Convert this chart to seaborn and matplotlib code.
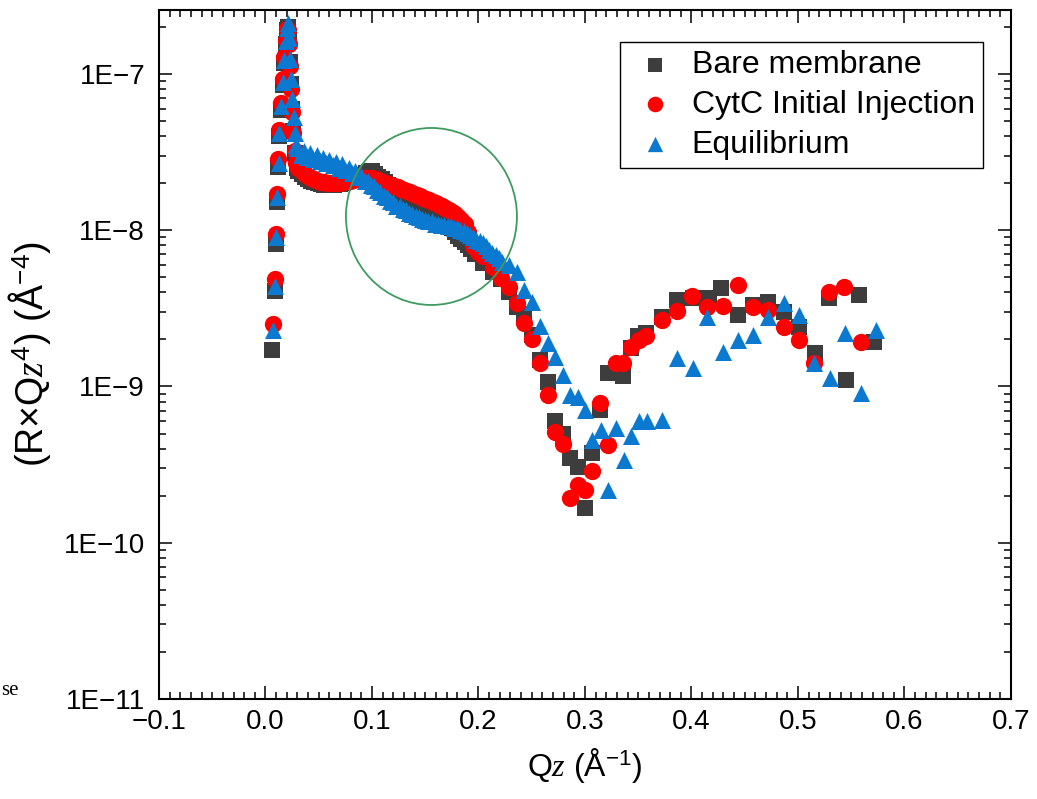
import matplotlib
matplotlib.use("Agg")
import numpy as np
import pandas as pd
import seaborn as sns
import matplotlib.pyplot as plt
from matplotlib.patches import Ellipse
from matplotlib.ticker import FixedLocator, FuncFormatter, MultipleLocator, LogLocator, NullFormatter

# ---------------- data ----------------
bare_q = [0.0062, 0.0086, 0.0097, 0.0111, 0.0122, 0.0131, 0.0145, 0.0162, 0.0177, 0.0191, 0.0201, 0.0211,
          0.0222, 0.0232, 0.0242, 0.0252, 0.0263, 0.0277, 0.0292,
          0.031, 0.034, 0.037, 0.040, 0.043, 0.046, 0.049, 0.052, 0.055, 0.058, 0.061, 0.064, 0.067, 0.070,
          0.073, 0.076, 0.079, 0.082, 0.085, 0.088, 0.091, 0.094, 0.097, 0.100, 0.103, 0.106, 0.109, 0.112,
          0.115, 0.118, 0.121, 0.124, 0.127, 0.130, 0.133, 0.136, 0.139, 0.142, 0.145, 0.148, 0.151, 0.154,
          0.157, 0.160, 0.163, 0.166, 0.169, 0.172, 0.175, 0.178, 0.181, 0.184, 0.187, 0.190, 0.193,
          0.197, 0.2042, 0.2136, 0.2208, 0.2286, 0.2365, 0.243, 0.2506, 0.258, 0.265, 0.2717, 0.279, 0.286,
          0.293, 0.300, 0.307, 0.3145, 0.322, 0.329, 0.3355, 0.343, 0.350, 0.3575, 0.372, 0.386, 0.401,
          0.416, 0.428, 0.444, 0.458, 0.472, 0.4865, 0.5007, 0.516, 0.529, 0.545, 0.557, 0.571]
bare_r = [1.7e-9, 4.1e-9, 8.2e-9, 1.52e-8, 2.55e-8, 4.0e-8, 5.9e-8, 8.5e-8, 1.18e-7, 1.55e-7, 1.9e-7, 2.0e-7,
          1.75e-7, 1.2e-7, 8.6e-8, 6.0e-8, 4.3e-8, 3.1e-8, 2.5e-8,
          2.4e-8, 2.28e-8, 2.2e-8, 2.13e-8, 2.08e-8, 2.03e-8, 2.0e-8, 1.97e-8, 1.95e-8, 1.94e-8, 1.94e-8,
          1.95e-8, 1.97e-8, 1.99e-8, 2.02e-8, 2.06e-8, 2.1e-8, 2.14e-8, 2.18e-8, 2.22e-8, 2.27e-8, 2.32e-8,
          2.36e-8, 2.38e-8, 2.3e-8, 2.2e-8, 2.12e-8, 2.04e-8, 1.96e-8, 1.88e-8, 1.81e-8, 1.74e-8, 1.67e-8,
          1.61e-8, 1.56e-8, 1.51e-8, 1.47e-8, 1.43e-8, 1.40e-8, 1.37e-8, 1.35e-8, 1.33e-8, 1.31e-8, 1.28e-8,
          1.25e-8, 1.21e-8, 1.16e-8, 1.10e-8, 1.04e-8, 9.8e-9, 9.2e-9, 8.8e-9, 8.4e-9, 8.0e-9, 7.6e-9,
          7.1e-9, 6.2e-9, 5.4e-9, 4.9e-9, 4.05e-9, 3.25e-9, 2.9e-9, 2.14e-9, 1.48e-9, 1.07e-9, 6.0e-10,
          5.0e-10, 3.47e-10, 3.07e-10, 1.66e-10, 3.74e-10, 7.1e-10, 1.22e-9, 1.3e-9, 1.16e-9, 1.76e-9,
          2.09e-9, 2.2e-9, 2.8e-9, 3.58e-9, 3.7e-9, 3.67e-9, 4.26e-9, 2.87e-9, 3.3e-9, 3.49e-9, 3.02e-9,
          2.41e-9, 1.63e-9, 3.67e-9, 1.10e-9, 3.86e-9, 1.94e-9]

cytc_q = [0.0066, 0.0086, 0.0097, 0.0111, 0.0122, 0.0131, 0.0145, 0.0162, 0.0177, 0.0191, 0.0201, 0.0211,
          0.0221, 0.0231, 0.0241, 0.0251, 0.0262, 0.0276, 0.0291,
          0.031, 0.034, 0.037, 0.040, 0.043, 0.046, 0.049, 0.052, 0.055, 0.058, 0.061, 0.064, 0.067, 0.070,
          0.073, 0.076, 0.079, 0.082, 0.085, 0.088, 0.091, 0.094, 0.097, 0.100, 0.103, 0.106, 0.109, 0.112,
          0.115, 0.118, 0.121, 0.124, 0.127, 0.130, 0.133, 0.136, 0.139, 0.142, 0.145, 0.148, 0.151, 0.154,
          0.157, 0.160, 0.163, 0.166, 0.169, 0.172, 0.175, 0.178, 0.181, 0.184, 0.187, 0.190,
          0.1948, 0.1995, 0.2042, 0.2136, 0.2214, 0.2286, 0.236, 0.243, 0.2506, 0.258, 0.265, 0.2717, 0.279,
          0.286, 0.293, 0.300, 0.307, 0.3145, 0.322, 0.329, 0.3355, 0.343, 0.351, 0.3575, 0.3723, 0.3868,
          0.4006, 0.415, 0.430, 0.444, 0.458, 0.472, 0.4865, 0.5007, 0.515, 0.529, 0.543, 0.559]
cytc_r = [2.5e-9, 4.9e-9, 9.5e-9, 1.7e-8, 2.85e-8, 4.4e-8, 6.5e-8, 9.3e-8, 1.28e-7, 1.65e-7, 1.95e-7, 1.9e-7,
          1.55e-7, 1.12e-7, 8.0e-8, 5.7e-8, 4.2e-8, 3.2e-8, 2.7e-8,
          2.5e-8, 2.38e-8, 2.3e-8, 2.23e-8, 2.17e-8, 2.12e-8, 2.08e-8, 2.05e-8, 2.03e-8, 2.01e-8, 2.0e-8,
          2.0e-8, 2.01e-8, 2.02e-8, 2.04e-8, 2.06e-8, 2.08e-8, 2.10e-8, 2.12e-8, 2.14e-8, 2.16e-8, 2.17e-8,
          2.17e-8, 2.16e-8, 2.13e-8, 2.09e-8, 2.05e-8, 2.01e-8, 1.98e-8, 1.95e-8, 1.92e-8, 1.88e-8, 1.85e-8,
          1.81e-8, 1.78e-8, 1.75e-8, 1.71e-8, 1.68e-8, 1.65e-8, 1.62e-8, 1.59e-8, 1.56e-8, 1.52e-8, 1.49e-8,
          1.45e-8, 1.42e-8, 1.38e-8, 1.34e-8, 1.31e-8, 1.27e-8, 1.22e-8, 1.17e-8, 1.10e-8, 9.8e-9,
          7.9e-9, 7.3e-9, 6.8e-9, 5.85e-9, 4.93e-9, 4.32e-9, 3.41e-9, 2.56e-9, 2.01e-9, 1.42e-9, 8.8e-10,
          5.1e-10, 4.3e-10, 1.93e-10, 2.34e-10, 2.18e-10, 2.86e-10, 7.8e-10, 4.2e-10, 1.41e-9, 1.42e-9,
          1.8e-9, 1.99e-9, 2.11e-9, 2.67e-9, 3.06e-9, 3.8e-9, 3.22e-9, 3.28e-9, 4.47e-9, 3.25e-9, 3.09e-9,
          2.41e-9, 1.99e-9, 1.41e-9, 4.05e-9, 4.32e-9, 1.94e-9]

eq_q = [0.0068, 0.0088, 0.0098, 0.0112, 0.0123, 0.0131, 0.0146, 0.0163, 0.0178, 0.0192, 0.0202, 0.0212,
        0.0222, 0.0232, 0.0242, 0.0253, 0.0264, 0.0277, 0.0291,
        0.030, 0.033, 0.036, 0.039, 0.042, 0.045, 0.048, 0.051, 0.054, 0.057, 0.060, 0.063, 0.066, 0.069,
        0.072, 0.075, 0.078, 0.081, 0.084, 0.087, 0.090, 0.093, 0.096, 0.099, 0.102, 0.105, 0.108, 0.111,
        0.114, 0.117, 0.120, 0.123, 0.126, 0.129, 0.132, 0.135, 0.138, 0.141, 0.144, 0.147, 0.150, 0.153,
        0.156, 0.159, 0.162, 0.165, 0.168, 0.171, 0.174, 0.177, 0.180, 0.183, 0.186, 0.189, 0.192, 0.195,
        0.198, 0.201, 0.204, 0.207, 0.210, 0.213, 0.216, 0.219, 0.222,
        0.2286, 0.236, 0.243, 0.2506, 0.258, 0.265, 0.2717, 0.279, 0.286, 0.293, 0.300, 0.307, 0.315, 0.322,
        0.329, 0.3365, 0.343, 0.351, 0.3585, 0.3726, 0.3868, 0.401, 0.415, 0.430, 0.444, 0.458, 0.472,
        0.4865, 0.501, 0.5154, 0.530, 0.544, 0.5588, 0.573]
eq_r = [2.3e-9, 4.4e-9, 9.0e-9, 1.63e-8, 2.7e-8, 4.2e-8, 6.2e-8, 8.9e-8, 1.23e-7, 1.62e-7, 1.98e-7, 2.12e-7,
        1.7e-7, 1.25e-7, 9.3e-8, 6.9e-8, 5.3e-8, 4.2e-8, 3.5e-8,
        3.35e-8, 3.05e-8, 3.22e-8, 2.95e-8, 3.12e-8, 2.86e-8, 3.02e-8, 2.76e-8, 2.92e-8, 2.68e-8, 2.82e-8,
        2.6e-8, 2.74e-8, 2.52e-8, 2.64e-8, 2.43e-8, 2.52e-8, 2.33e-8, 2.38e-8, 2.2e-8, 2.24e-8, 2.07e-8,
        2.08e-8, 1.94e-8, 1.92e-8, 1.8e-8, 1.77e-8, 1.66e-8, 1.64e-8, 1.54e-8, 1.52e-8, 1.44e-8, 1.42e-8,
        1.36e-8, 1.35e-8, 1.29e-8, 1.28e-8, 1.23e-8, 1.22e-8, 1.18e-8, 1.17e-8, 1.14e-8, 1.14e-8, 1.1e-8,
        1.1e-8, 1.08e-8, 1.08e-8, 1.06e-8, 1.06e-8, 1.04e-8, 1.03e-8, 1.01e-8, 9.9e-9, 9.6e-9, 9.3e-9,
        9.0e-9, 8.7e-9, 8.5e-9, 8.3e-9, 7.9e-9, 7.5e-9, 7.2e-9, 6.9e-9, 6.6e-9, 6.3e-9,
        6.0e-9, 5.4e-9, 4.15e-9, 3.49e-9, 2.44e-9, 1.89e-9, 1.55e-9, 1.19e-9, 8.8e-10, 8.6e-10, 7.1e-10,
        4.55e-10, 5.3e-10, 2.18e-10, 5.4e-10, 3.4e-10, 4.8e-10, 6.0e-10, 6.0e-10, 6.1e-10, 1.52e-9, 1.31e-9,
        2.8e-9, 1.67e-9, 1.99e-9, 2.14e-9, 2.8e-9, 3.41e-9, 2.87e-9, 1.41e-9, 1.13e-9, 2.19e-9, 9.1e-10,
        2.3e-9]

series_names = ["Bare membrane", "CytC Initial Injection", "Equilibrium"]
y_ticks = [1e-11, 1e-10, 1e-9, 1e-8, 1e-7]

# ---------------- style ----------------
sns.set_theme(style="ticks")
plt.rcParams["font.family"] = ["Liberation Sans", "DejaVu Sans"]
plt.rcParams["mathtext.fontset"] = "custom"
plt.rcParams["mathtext.rm"] = "Liberation Sans"
plt.rcParams["mathtext.it"] = "Liberation Serif:italic"
plt.rcParams["mathtext.bf"] = "Liberation Sans:bold"
plt.rcParams["axes.unicode_minus"] = True
plt.rcParams["text.color"] = "black"

fig = plt.figure(figsize=(10.37, 7.99), dpi=100)
ax = fig.add_axes([0.1533, 0.1252, 0.8216, 0.8623])

sns.scatterplot(x=bare_q, y=bare_r, marker="s", s=125, color="#3D3D3D", linewidth=0,
                label=series_names[0], ax=ax, zorder=3)
sns.scatterplot(x=cytc_q, y=cytc_r, marker="o", s=155, color="#FF0000", linewidth=0,
                label=series_names[1], ax=ax, zorder=4)
sns.scatterplot(x=eq_q, y=eq_r, marker="^", s=150, color="#0B79D0", linewidth=0,
                label=series_names[2], ax=ax, zorder=5)

ax.set_yscale("log")
ax.set_xlim(-0.1, 0.7)
ax.set_ylim(1e-11, 2.57e-7)

ax.yaxis.set_major_locator(FixedLocator(y_ticks))
ax.yaxis.set_major_formatter(FuncFormatter(lambda v, p: "1E\u2212%d" % int(round(-np.log10(v)))))
ax.yaxis.set_minor_locator(LogLocator(base=10, subs=np.arange(2, 10), numticks=30))
ax.yaxis.set_minor_formatter(NullFormatter())


def xfmt(v, p):
    if abs(v) < 1e-9:
        v = 0.0
    return ("%.1f" % v).replace("-", "\u2212")


ax.xaxis.set_major_locator(MultipleLocator(0.1))
ax.xaxis.set_major_formatter(FuncFormatter(xfmt))
ax.xaxis.set_minor_locator(MultipleLocator(0.01))

ax.tick_params(which="both", direction="in", top=True, right=True, color="black", width=1.1)
ax.tick_params(which="major", length=9.5, labelsize=20, pad=7, labelcolor="black")
ax.tick_params(which="minor", length=5)
ax.tick_params(axis="y", which="major", pad=10)
for sp in ax.spines.values():
    sp.set_linewidth(1.5)
    sp.set_color("black")

ax.set_xlabel(r"Q$z$ (Å$^{-1}$)", fontsize=23, labelpad=8, color="black")
ax.set_ylabel(r"(R×Q$z^{4}$) (Å$^{-4}$)", fontsize=27, labelpad=8, color="black")

leg = ax.legend(loc="upper right", bbox_to_anchor=(0.967, 0.9536), fontsize=23, frameon=True,
                fancybox=False, edgecolor="black", framealpha=1, borderpad=0.25, labelspacing=0.31,
                handlelength=1.7, handletextpad=0.3, borderaxespad=0, labelcolor="black",
                markerscale=0.9)
leg.get_frame().set_linewidth(1.0)

circ = Ellipse((0.3198, 0.7003), 0.2007, 0.2569, transform=ax.transAxes, fill=False,
               edgecolor="#3E9B5F", linewidth=1.3, zorder=10)
ax.add_patch(circ)

fig.text(0.001, 0.13, "se", fontsize=15, family=["Liberation Serif", "DejaVu Serif"],
         ha="left", va="baseline", color="black")

fig.savefig("out.png", dpi=100, facecolor="white")
